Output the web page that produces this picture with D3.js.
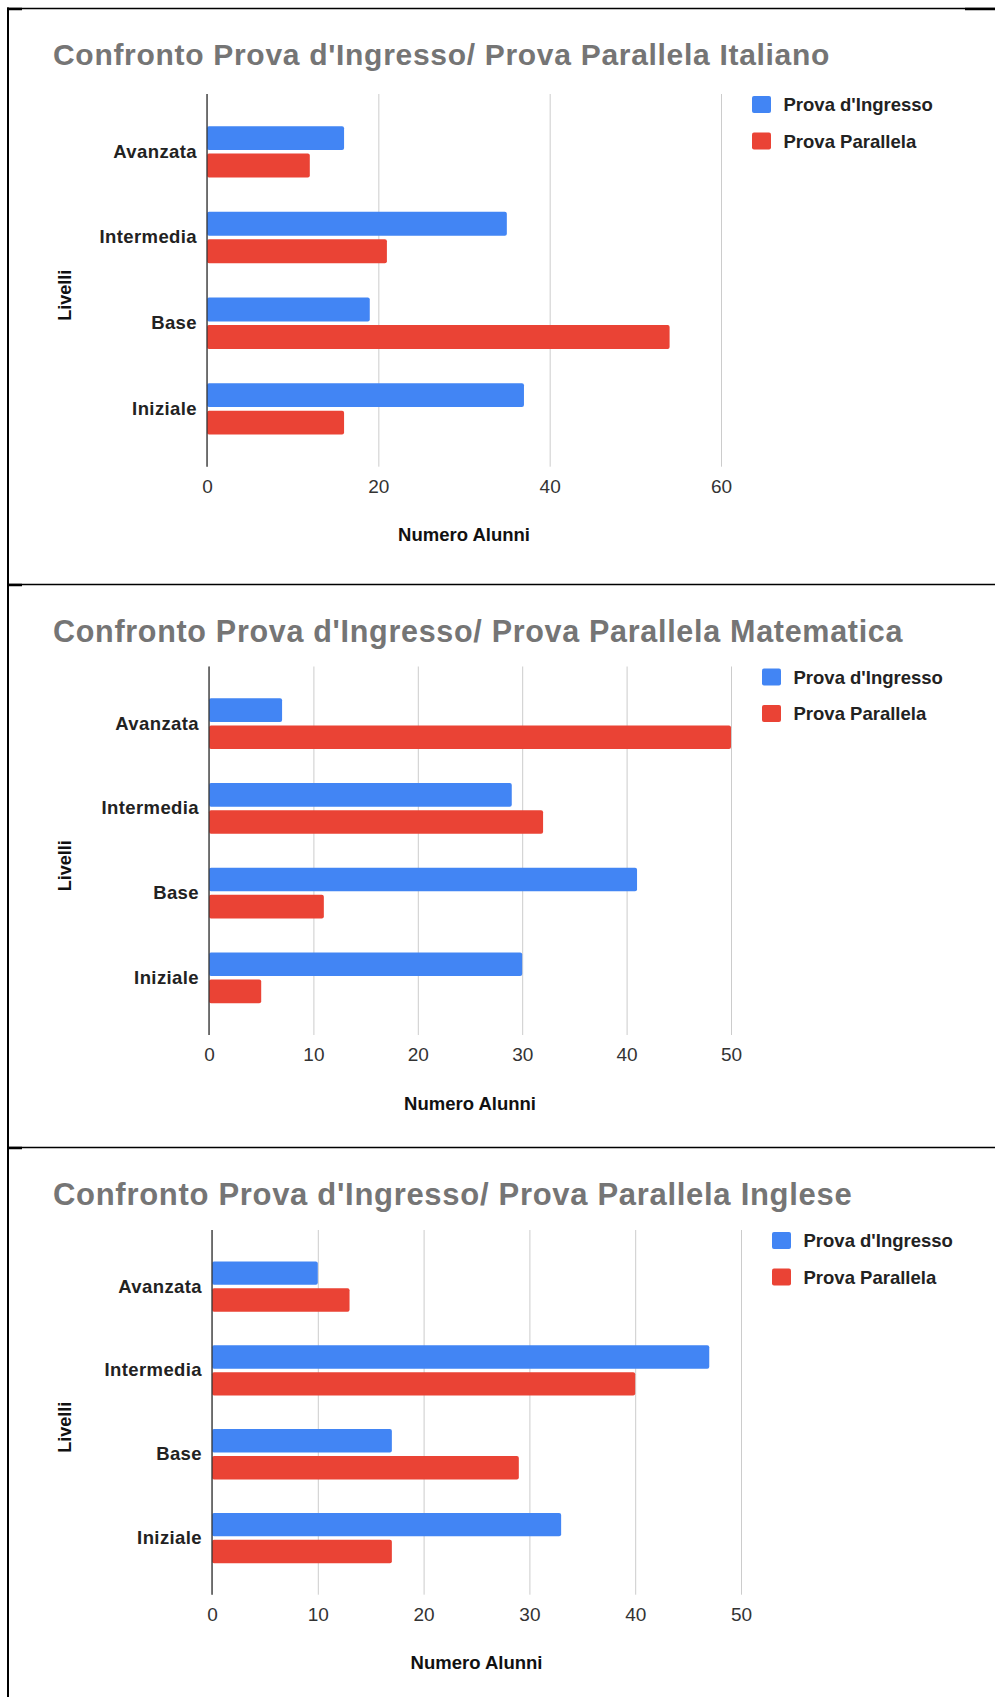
<!DOCTYPE html>
<html>
<head>
<meta charset="utf-8">
<script src="https://cdn.jsdelivr.net/npm/d3@7"></script>
<style>
  body { margin: 0; background: #fff; }
  svg { display: block; font-family: "Liberation Sans", Arial, sans-serif; }
</style>
</head>
<body>
<div id="chart"></div>
<script>
// Data
const levels = ["Avanzata", "Intermedia", "Base", "Iniziale"];
const seriesNames = ["Prova d'Ingresso", "Prova Parallela"];
const seriesColors = ["#4285f4", "#ea4335"];
const subjects = ["Italiano", "Matematica", "Inglese"];

const italianoIngresso = [16, 35, 19, 37];
const italianoParallela = [12, 21, 54, 16];
const matematicaIngresso = [7, 29, 41, 30];
const matematicaParallela = [50, 32, 11, 5];
const ingleseIngresso = [10, 47, 17, 33];
const ingleseParallela = [13, 40, 29, 17];

const italianoTicks = [0, 20, 40, 60];
const matematicaTicks = [0, 10, 20, 30, 40, 50];
const ingleseTicks = [0, 10, 20, 30, 40, 50];

const W = 995, H = 1697;

// panel layout (pixel positions)
const panels = [
  { subject: subjects[0], values: [italianoIngresso, italianoParallela], ticks: italianoTicks,
    left: 207, right: 721, top: 94, bottom: 466.7, titleY: 65, titleSize: 30 },
  { subject: subjects[1], values: [matematicaIngresso, matematicaParallela], ticks: matematicaTicks,
    left: 209, right: 731, top: 666.5, bottom: 1035, titleY: 642, titleSize: 30.5 },
  { subject: subjects[2], values: [ingleseIngresso, ingleseParallela], ticks: ingleseTicks,
    left: 212, right: 741, top: 1230, bottom: 1594.7, titleY: 1205, titleSize: 31 }
];

const svg = d3.select("#chart")
  .append("svg")
    .attr("width", W)
    .attr("height", H);

// Frame lines
const frame = svg.append("g").attr("stroke", "#000");
[8.5, 584.5, 1147.5].forEach(y => {
  frame.append("line").attr("x1", 7).attr("x2", W).attr("y1", y).attr("y2", y).attr("stroke-width", 1.5);
  frame.append("line").attr("x1", 7).attr("x2", 22).attr("y1", y + 0.5).attr("y2", y + 0.5).attr("stroke-width", 2.5);
});
frame.append("line").attr("x1", 965).attr("x2", W).attr("y1", 9).attr("y2", 9).attr("stroke-width", 2.5);
frame.append("line").attr("x1", 8).attr("x2", 8).attr("y1", 7.5).attr("y2", H).attr("stroke-width", 2);

panels.forEach(p => {
  const g = svg.append("g");
  const plotH = p.bottom - p.top;

  const x = d3.scaleLinear()
    .domain([0, d3.max(p.ticks)])
    .range([p.left, p.right]);

  const y = d3.scaleBand()
    .domain(levels)
    .range([p.top, p.bottom])
    .paddingInner(0.4)
    .paddingOuter(0.375);

  const ySub = d3.scaleBand()
    .domain(seriesNames)
    .range([0, y.bandwidth()])
    .paddingInner(0.13);

  // Title
  g.append("text")
    .attr("x", 53)
    .attr("y", p.titleY)
    .attr("fill", "#757575")
    .style("font-size", p.titleSize + "px")
    .style("font-weight", "bold")
    .style("letter-spacing", "0.7px")
    .text("Confronto Prova d'Ingresso/ Prova Parallela " + p.subject);

  // X axis with gridlines
  const xAxis = g.append("g")
    .attr("transform", "translate(0," + p.bottom + ")")
    .call(d3.axisBottom(x).tickValues(p.ticks).tickSizeInner(-plotH).tickSizeOuter(0).tickPadding(13));
  xAxis.select(".domain").remove();
  xAxis.selectAll(".tick line").attr("stroke", "#cccccc");
  xAxis.selectAll(".tick text")
    .attr("fill", "#333")
    .style("font-size", "19px")
    .style("font-family", "\"Liberation Sans\", Arial, sans-serif");

  // Bars
  levels.forEach((lev, i) => {
    seriesNames.forEach((s, k) => {
      g.append("rect")
        .attr("x", x(0))
        .attr("y", y(lev) + ySub(s))
        .attr("width", x(p.values[k][i]) - x(0))
        .attr("height", ySub.bandwidth())
        .attr("rx", 2)
        .attr("fill", seriesColors[k]);
    });
  });

  // zero line
  g.append("line")
    .attr("x1", x(0)).attr("x2", x(0))
    .attr("y1", p.top).attr("y2", p.bottom)
    .attr("stroke", "#333")
    .attr("stroke-width", 1.3);

  // Y axis labels
  const yAxis = g.append("g")
    .attr("transform", "translate(" + x(0) + ",0)")
    .call(d3.axisLeft(y).tickSize(0).tickPadding(10));
  yAxis.select(".domain").remove();
  yAxis.selectAll(".tick text")
    .attr("fill", "#222")
    .style("font-size", "18.5px")
    .style("font-weight", "bold")
    .style("letter-spacing", "0.4px")
    .style("font-family", "\"Liberation Sans\", Arial, sans-serif");

  // X axis label
  g.append("text")
    .attr("x", (p.left + p.right) / 2)
    .attr("y", p.bottom + 74.5)
    .attr("text-anchor", "middle")
    .attr("fill", "#111")
    .style("font-size", "18.5px")
    .style("font-weight", "bold")
    .text("Numero Alunni");

  // Y axis label
  g.append("text")
    .attr("transform", "translate(70.5," + ((p.top + p.bottom) / 2 + 15) + ") rotate(-90)")
    .attr("text-anchor", "middle")
    .attr("fill", "#111")
    .style("font-size", "18px")
    .style("font-weight", "bold")
    .text("Livelli");

  // Legend
  const legend = g.append("g")
    .attr("transform", "translate(" + (p.right + 31) + "," + p.top + ")");
  seriesNames.forEach((s, k) => {
    const cy = 10.5 + k * 36.5;
    legend.append("rect")
      .attr("x", 0)
      .attr("y", cy - 8.5)
      .attr("width", 19)
      .attr("height", 17)
      .attr("rx", 2)
      .attr("fill", seriesColors[k]);
    legend.append("text")
      .attr("x", 31.5)
      .attr("y", cy + 6.5)
      .attr("fill", "#222")
      .style("font-size", "18.5px")
      .style("font-weight", "bold")
      .text(s);
  });
});
</script>
</body>
</html>
